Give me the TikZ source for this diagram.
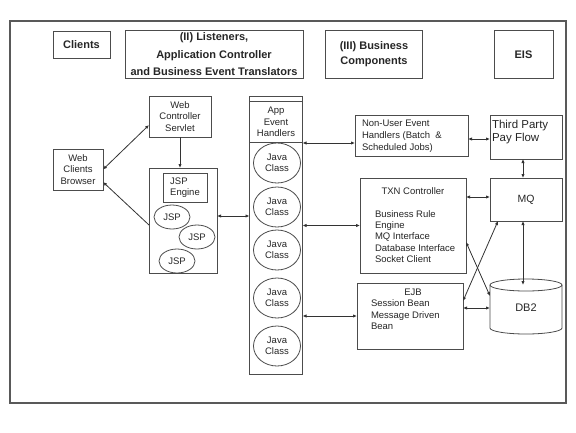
\documentclass[tikz,border=0pt]{standalone}
\usepackage{fontspec}
\setmainfont{Liberation Sans}
\usetikzlibrary{arrows.meta,shapes.geometric}
\begin{document}
\begin{tikzpicture}[x=1pt,y=-1pt,
  every node/.style={inner sep=0pt, outer sep=0pt, font=\fontsize{9.5}{11.5}\selectfont, text=black!85},
  box/.style={draw=black!70, line width=0.8pt, rectangle},
  hdr/.style={box, font=\fontsize{11}{17.5}\selectfont\bfseries, align=center},
  oval/.style={draw=black!70, line width=0.8pt, ellipse, align=center},
  conn/.style={draw=black!80, line width=0.8pt, {Latex[length=4pt,width=3.4pt]}-{Latex[length=4pt,width=3.4pt]}},
  conn1/.style={draw=black!80, line width=0.8pt, -{Latex[length=4pt,width=3.4pt]}}
]
\useasboundingbox (0,0) rectangle (576,432);
\fill[white] (0,0) rectangle (576,432);
\draw[black!65, line width=1.2pt] (10,21) rectangle (566,403);

% headers
\node[hdr, minimum width=57pt, minimum height=27pt] (clients) at (81.5,45) {Clients};
\node[hdr, minimum width=178pt, minimum height=48pt] (listen) at (214,54.5) {(II) Listeners,\\Application Controller\\and Business Event Translators};
\node[hdr, minimum width=97pt, minimum height=48pt, font=\fontsize{11}{15}\selectfont\bfseries] (busc) at (374,54.5) {(III) Business\\Components};
\node[hdr, minimum width=59pt, minimum height=48pt] (eis) at (523.5,54.5) {EIS};

% clients side
\node[box, minimum width=62pt, minimum height=41pt, align=center] (servlet) at (180,116.5) {Web\\Controller\\Servlet};
\node[box, minimum width=50pt, minimum height=41pt, align=center] (browser) at (78,169.5) {Web\\Clients\\Browser};
\node[box, minimum width=68pt, minimum height=105pt] (jsp) at (183,220.5) {};
\node[box, minimum width=44pt, minimum height=29pt, align=left] (engine) at (185,187.5) {JSP\\Engine};
\node[oval, minimum width=36pt, minimum height=24pt] (jsp1) at (172,217) {JSP};
\node[oval, minimum width=36pt, minimum height=24pt] (jsp2) at (197,237) {JSP};
\node[oval, minimum width=36pt, minimum height=24pt] (jsp3) at (177,261) {JSP};

% app event handlers column
\node[box, minimum width=53pt, minimum height=278pt] (app) at (276,235) {};
\draw[black!70, line width=0.8pt] (250,101) -- (302,101);
\draw[black!70, line width=0.8pt] (250,142) -- (302,142);
\node[align=center] (apptxt) at (276,122) {App\\Event\\Handlers};
\foreach \i/\yy in {1/163,2/207,3/250,4/298,5/346}{
  \node[oval, minimum width=47pt, minimum height=40pt] (jc\i) at (277,\yy) {Java\\Class};
}

% business components
\node[box, minimum width=113pt, minimum height=41pt] (nonuser) at (411.5,135.5) {};
\node[align=left, anchor=west, font=\fontsize{9.5}{12}\selectfont] (nonusertxt) at (362,136) {Non-User Event\\Handlers (Batch \ \&\\Scheduled Jobs)};
\node[box, minimum width=106pt, minimum height=95pt] (txn) at (413,225.5) {};
\node (txnt) at (413,191) {TXN Controller};
\node[align=left, anchor=north west, font=\fontsize{9.5}{11.3}\selectfont] (txnl) at (375,210.5) {Business Rule\\Engine\\MQ Interface\\Database Interface\\Socket Client};
\node[box, minimum width=106pt, minimum height=66pt] (ejb) at (410,316) {};
\node (ejbt) at (413,292) {EJB};
\node[align=left, anchor=north west] (ejbl) at (371,300) {Session Bean\\Message Driven\\Bean};

% EIS
\node[box, minimum width=72pt, minimum height=44pt] (third) at (526,137) {};
\node[align=left, anchor=north west, font=\fontsize{11.5}{13.5}\selectfont] (thirdtxt) at (492,120) {Third Party\\Pay Flow};
\node[box, minimum width=72pt, minimum height=43pt, font=\fontsize{10.5}{12}\selectfont] (mq) at (526,199.5) {MQ};
\node[minimum width=72pt, minimum height=55pt] (db2) at (526,306.5) {};
\draw[black!70, line width=0.8pt, fill=white] (490,285) -- (490,328) arc[start angle=180, end angle=360, x radius=36pt, y radius=6pt] -- (562,285);
\draw[black!70, line width=0.8pt] (526,285) ellipse [x radius=36pt, y radius=6pt];
\node[font=\fontsize{11}{13}\selectfont] (db2t) at (526,308) {DB2};

% helper coordinates
\coordinate (c1) at ([yshift=4.5pt]jsp.east);
\coordinate (c2) at ([yshift=-7.5pt]nonuser.west);
\coordinate (c3) at ([yshift=-3.5pt]nonuser.east);
\coordinate (c4) at ([yshift=2.5pt]mq.west);
\coordinate (c5) at ([yshift=8pt]ejb.east);

% connectors
\draw[conn] (browser.east) -- ([yshift=-8.5pt]servlet.west);
\draw[conn1] (servlet.south) -- (servlet.south |- jsp.north);
\draw[conn1] ([yshift=-4.5pt]jsp.west) -- ([yshift=-12.5pt]browser.east);
\draw[conn] (c1) -- (app.west |- c1);
\draw[conn] (app.east |- c2) -- (c2);
\draw[conn] (c3) -- (third.west |- c3);
\draw[conn] ([xshift=-3pt]third.south) -- ([xshift=-3pt]mq.north);
\draw[conn] (txn.east |- c4) -- (c4);
\draw[conn] (app.east |- txn.west) -- (txn.west);
\draw[conn] ([xshift=-3pt]mq.south) -- ([xshift=-3pt,yshift=-6pt]db2.north);
\draw[conn] (app.east |- ejb.west) -- (ejb.west);
\draw[conn] (c5) -- (db2.west |- c5);
\draw[conn] ([yshift=-16.5pt]txn.east) -- ([yshift=10.5pt]db2.west);
\draw[conn] ([yshift=15pt]ejb.east) -- ([xshift=8pt]mq.south west);
\end{tikzpicture}
\end{document}
